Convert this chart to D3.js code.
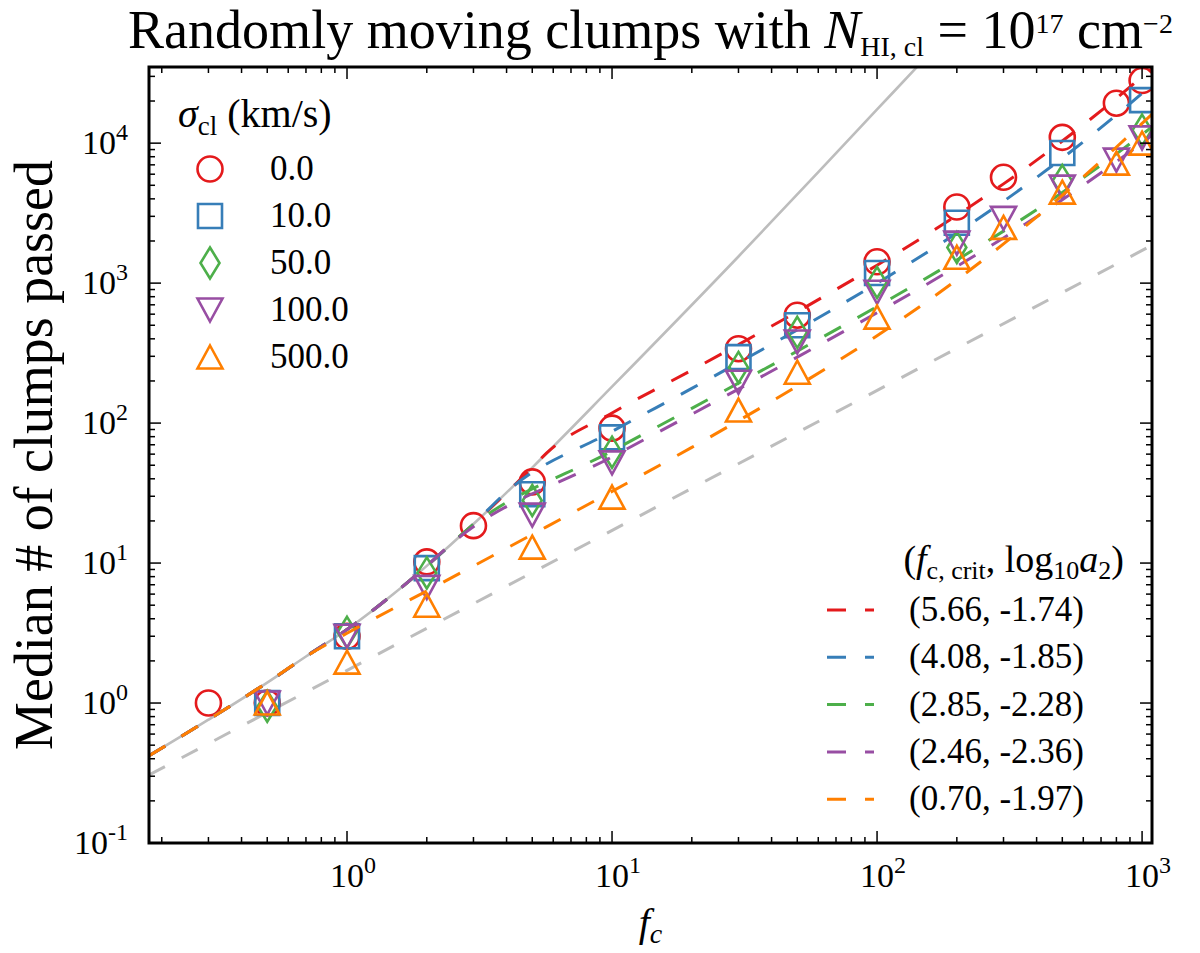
<!DOCTYPE html>
<html>
<head>
<meta charset="utf-8">
<script src="https://cdn.jsdelivr.net/npm/d3@7"></script>
<style>
  body { margin: 0; background: #fff; }
  text { fill: #000; }
  .num { font-family: 'Liberation Serif', serif; }
  .cm { font-family: 'Liberation Serif', serif; }
</style>
</head>
<body>
<div id="chart"></div>
<script>
// Axis ranges.
var fcDomain = [0.179, 1090];
var nDomain = [0.1, 35000];
var xTickExps = ['0', '1', '2', '3'];
var yTickExps = ['-1', '0', '1', '2', '3', '4'];

// Series: sigma_cl (km/s).
var sigmaLabels = ['0.0', '10.0', '50.0', '100.0', '500.0'];
var seriesColors = ['#e41a1c', '#377eb8', '#4daf4a', '#984ea3', '#ff7f00'];
var seriesShapes = ['circle', 'square', 'diamond', 'triangleDown', 'triangleUp'];

// Measured medians.
var fcRed    = [0.3, 0.5, 1, 2, 3, 5, 10, 30, 50, 100, 200, 300, 500, 800, 1000];
var nRed     = [1.0, 1.0, 3.0, 10.2, 18.5, 38, 92, 340, 590, 1420, 3500, 5700, 11000, 19300, 28000];
var fcBlue   = [0.5, 1, 2, 5, 10, 30, 50, 100, 200, 500, 1000];
var nBlue    = [1.0, 3.0, 9.2, 31, 79, 296, 500, 1180, 2700, 8500, 20300];
var fcGreen  = [0.5, 1, 2, 5, 10, 30, 50, 100, 200, 500, 1000];
var nGreen   = [0.95, 3.2, 8.5, 28, 62, 250, 445, 1010, 1800, 5400, 12400];
var fcPurple = [0.5, 1, 2, 5, 10, 30, 50, 100, 200, 300, 500, 800, 1000];
var nPurple  = [1.0, 3.0, 6.7, 22, 52, 196, 380, 860, 1930, 2900, 4850, 7560, 10900];
var fcOrange = [0.5, 1, 2, 5, 10, 30, 50, 100, 200, 300, 500, 800, 1000];
var nOrange  = [1.0, 1.96, 5.0, 13, 29.6, 124, 231, 572, 1530, 2500, 4470, 7200, 10000];

// Fitted curves beyond f_c,crit.
var fitLabels = ['(5.66, -1.74)', '(4.08, -1.85)', '(2.85, -2.28)', '(2.46, -2.36)', '(0.70, -1.97)'];
var fcCrit = [5.66, 4.08, 2.85, 2.46, 0.70];
var fitRed    = [[5.66, 61], [10, 118], [20, 239], [30, 364], [50, 625], [100, 1342], [200, 3048], [300, 5118], [500, 10350], [1000, 29800], [1090, 34270]];
var fitBlue   = [[4.08, 33.3], [10, 87.1], [20, 177], [30, 270], [50, 464], [100, 998], [200, 2278], [300, 3840], [500, 7810], [1000, 22670], [1090, 26090]];
var fitGreen  = [[2.85, 17.4], [10, 63.2], [20, 127.5], [30, 193], [50, 327], [100, 680], [200, 1464], [300, 2353], [500, 4447], [1000, 11520], [1090, 13070]];
var fitPurple = [[2.46, 13.6], [10, 57.4], [20, 115.8], [30, 175], [50, 296], [100, 614], [200, 1315], [300, 2103], [500, 3942], [1000, 10070], [1090, 11405]];
var fitOrange = [[0.70, 2.15], [1, 3.15], [2, 6.32], [5, 16], [10, 32.5], [20, 67.1], [30, 104], [50, 184], [100, 421], [200, 1056], [300, 1905], [500, 4245], [1000, 13840], [1090, 16135]];

// Grey reference curves.
var greySolid  = [[0.179, 0.42], [0.3, 0.76], [0.5, 1.40], [0.7, 2.15], [1, 3.35], [1.5, 6.03], [2, 9.55], [3, 19.0], [5, 48.1], [10, 182], [30, 1550], [60, 6200], [100, 17400], [139, 33800], [170, 50800]];
var greyDashed = [[0.179, 0.306], [1090, 1865]];

(function() {

  var W = 1200, H = 953;
  var left = 149, right = 1152, top = 67, bottom = 843;

  var svg = d3.select('#chart').append('svg')
    .attr('width', W)
    .attr('height', H);

  var x = d3.scaleLog().domain(fcDomain).range([left, right]);
  var y = d3.scaleLog().domain(nDomain).range([bottom, top]);

  svg.append('defs').append('clipPath').attr('id', 'plotClip')
    .append('rect')
    .attr('x', left).attr('y', top)
    .attr('width', right - left).attr('height', bottom - top);

  var plot = svg.append('g').attr('clip-path', 'url(#plotClip)');

  var line = d3.line()
    .x(function(d) { return x(d[0]); })
    .y(function(d) { return y(d[1]); })
    .curve(d3.curveMonotoneX);

  // Marker shapes (matplotlib-like open markers).
  var markerPath = function(shape) {
    var p = d3.path();
    if (shape == 'circle') {
      p.arc(0, 0, 12.5, 0, 2 * Math.PI);
      p.closePath();
    } else if (shape == 'square') {
      p.rect(-12, -12, 24, 24);
    } else if (shape == 'diamond') {
      p.moveTo(0, -15.5); p.lineTo(9.5, 0); p.lineTo(0, 15.5); p.lineTo(-9.5, 0); p.closePath();
    } else if (shape == 'triangleUp') {
      p.moveTo(0, -11.5); p.lineTo(12.5, 11.5); p.lineTo(-12.5, 11.5); p.closePath();
    } else {
      p.moveTo(0, 11.5); p.lineTo(12.5, -11.5); p.lineTo(-12.5, -11.5); p.closePath();
    }
    return p.toString();
  };

  // Grey lines.
  plot.append('path')
    .attr('d', line(greySolid))
    .attr('fill', 'none')
    .attr('stroke', '#bdbdbd')
    .attr('stroke-width', 2.6);

  plot.append('path')
    .attr('d', line(greyDashed))
    .attr('fill', 'none')
    .attr('stroke', '#bdbdbd')
    .attr('stroke-width', 3)
    .attr('stroke-dasharray', '18,19');

  var fcs = [fcRed, fcBlue, fcGreen, fcPurple, fcOrange];
  var ns = [nRed, nBlue, nGreen, nPurple, nOrange];
  var fits = [fitRed, fitBlue, fitGreen, fitPurple, fitOrange];

  sigmaLabels.forEach(function(lbl, i) {
    var pts = fcs[i].map(function(f, j) { return [f, ns[i][j]]; });

    plot.append('g').selectAll('path')
      .data(pts)
      .enter().append('path')
      .attr('d', markerPath(seriesShapes[i]))
      .attr('transform', function(d) { return 'translate(' + x(d[0]) + ',' + y(d[1]) + ')'; })
      .attr('fill', 'none')
      .attr('stroke', seriesColors[i])
      .attr('stroke-width', 2.6);

    // Fit follows the grey curve up to f_c,crit.
    var curve = greySolid.filter(function(d) { return d[0] < fcCrit[i]; }).concat(fits[i]);

    plot.append('path')
      .attr('d', line(curve))
      .attr('fill', 'none')
      .attr('stroke', seriesColors[i])
      .attr('stroke-width', 3)
      .attr('stroke-dasharray', '19,19');
  });

  // Ticks on all four sides, pointing in.
  var xAll = x.ticks().filter(function(v) { return v >= fcDomain[0] && v <= fcDomain[1]; });
  var yAll = y.ticks().filter(function(v) { return v >= nDomain[0] && v <= nDomain[1]; });
  var isMajor = function(v) { return Math.abs(Math.log10(v) - Math.round(Math.log10(v))) < 1e-9; };

  var ticks = svg.append('g').attr('stroke', '#000').attr('stroke-width', 1.5);

  xAll.forEach(function(v) {
    var len = isMajor(v) ? 12 : 6;
    ticks.append('line').attr('x1', x(v)).attr('x2', x(v)).attr('y1', bottom).attr('y2', bottom - len);
    ticks.append('line').attr('x1', x(v)).attr('x2', x(v)).attr('y1', top).attr('y2', top + len);
  });
  yAll.forEach(function(v) {
    var len = isMajor(v) ? 12 : 6;
    ticks.append('line').attr('y1', y(v)).attr('y2', y(v)).attr('x1', left).attr('x2', left + len);
    ticks.append('line').attr('y1', y(v)).attr('y2', y(v)).attr('x1', right).attr('x2', right - len);
  });

  svg.append('rect')
    .attr('x', left).attr('y', top)
    .attr('width', right - left).attr('height', bottom - top)
    .attr('fill', 'none')
    .attr('stroke', '#000')
    .attr('stroke-width', 3);

  // Tick labels.
  var tickFont = 34;
  var powerLabel = function(g, exp) {
    g.append('tspan').text('10');
    g.append('tspan').attr('dy', -14).attr('font-size', 24).text(exp);
  };

  xTickExps.forEach(function(e) {
    var t = svg.append('text')
      .attr('class', 'num')
      .attr('x', x(Math.pow(10, +e)) + 6)
      .attr('y', 887)
      .attr('text-anchor', 'middle')
      .attr('font-size', tickFont);
    powerLabel(t, e);
  });

  yTickExps.forEach(function(e) {
    var t = svg.append('text')
      .attr('class', 'num')
      .attr('x', 128)
      .attr('y', y(Math.pow(10, +e)) + 11)
      .attr('text-anchor', 'end')
      .attr('font-size', tickFont);
    powerLabel(t, e);
  });

  // Title.
  var title = svg.append('text')
    .attr('class', 'cm')
    .attr('x', (left + right) / 2)
    .attr('y', 48)
    .attr('text-anchor', 'middle')
    .attr('font-size', 42);
  title.append('tspan').text('Randomly moving clumps with ');
  title.append('tspan').attr('font-style', 'italic').text('N');
  title.append('tspan').attr('dy', 8).attr('font-size', 28).text('HI, cl');
  title.append('tspan').attr('dy', -8).text(' = 10');
  title.append('tspan').attr('dy', -15).attr('font-size', 28).text('17');
  title.append('tspan').attr('dy', 15).text(' cm');
  title.append('tspan').attr('dy', -15).attr('font-size', 28).text('\u22122');

  // Fit the title to its width in the reference.
  var tw = title.node().getBBox().width;
  title.attr('font-size', 42 * 1080 / tw);

  // Axis labels.
  var ylab = svg.append('text')
    .attr('class', 'cm')
    .attr('transform', 'translate(52,' + ((top + bottom) / 2) + ') rotate(-90)')
    .attr('text-anchor', 'middle')
    .attr('font-size', 40)
    .text('Median # of clumps passed');
  var yw = ylab.node().getBBox().width;
  ylab.attr('font-size', 40 * 590 / yw);

  var xlab = svg.append('text')
    .attr('class', 'cm')
    .attr('x', (left + right) / 2)
    .attr('y', 936)
    .attr('text-anchor', 'middle')
    .attr('font-style', 'italic')
    .attr('font-size', 40);
  xlab.append('tspan').text('f');
  xlab.append('tspan').attr('dy', 7).attr('font-size', 28).text('c');

  // Legend: markers.
  var leg1 = svg.append('g');
  var l1t = leg1.append('text')
    .attr('class', 'num')
    .attr('x', 178).attr('y', 127)
    .attr('font-size', 40);
  l1t.append('tspan').attr('font-style', 'italic').text('\u03c3');
  l1t.append('tspan').attr('dy', 8).attr('font-size', 27).text('cl');
  l1t.append('tspan').attr('dy', -8).text(' (km/s)');

  sigmaLabels.forEach(function(lbl, i) {
    var cy = 169 + i * 47;
    leg1.append('path')
      .attr('d', markerPath(seriesShapes[i]))
      .attr('transform', 'translate(210,' + cy + ')')
      .attr('fill', 'none')
      .attr('stroke', seriesColors[i])
      .attr('stroke-width', 2.6);
    leg1.append('text')
      .attr('class', 'num')
      .attr('x', 270).attr('y', cy + 11)
      .attr('font-size', 35)
      .text(lbl);
  });

  // Legend: fits.
  var leg2 = svg.append('g');
  var l2t = leg2.append('text')
    .attr('class', 'cm')
    .attr('x', 1124).attr('y', 572)
    .attr('text-anchor', 'end')
    .attr('font-size', 38);
  l2t.append('tspan').text('(');
  l2t.append('tspan').attr('font-style', 'italic').text('f');
  l2t.append('tspan').attr('dy', 7).attr('font-size', 26).text('c, crit');
  l2t.append('tspan').attr('dy', -7).text(', log');
  l2t.append('tspan').attr('dy', 7).attr('font-size', 26).text('10');
  l2t.append('tspan').attr('dy', -7).attr('font-style', 'italic').text('a');
  l2t.append('tspan').attr('dy', 7).attr('font-size', 26).text('2');
  l2t.append('tspan').attr('dy', -7).text(')');

  fitLabels.forEach(function(lbl, i) {
    var cy = 610 + i * 47.3;
    leg2.append('line')
      .attr('x1', 827).attr('x2', 874)
      .attr('y1', cy).attr('y2', cy)
      .attr('stroke', seriesColors[i])
      .attr('stroke-width', 3)
      .attr('stroke-dasharray', '19,19');
    leg2.append('text')
      .attr('class', 'num')
      .attr('x', 909).attr('y', cy + 11)
      .attr('font-size', 35)
      .text(lbl);
  });

})();
</script>
</body>
</html>
